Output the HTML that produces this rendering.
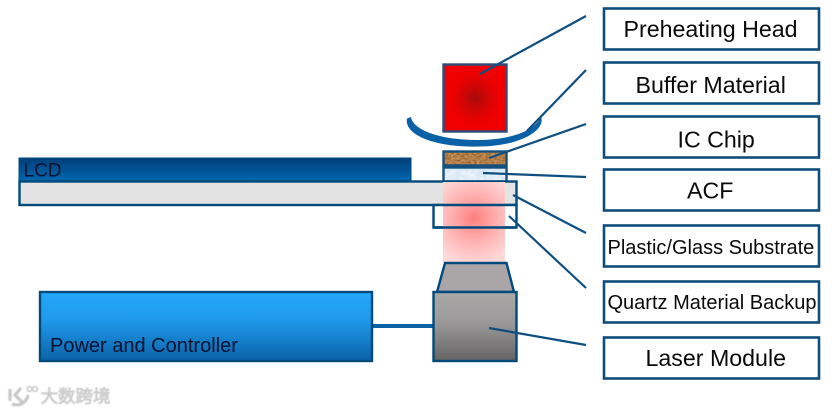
<!DOCTYPE html>
<html>
<head>
<meta charset="utf-8">
<style>
html,body{margin:0;padding:0;background:#fff;width:835px;height:412px;overflow:hidden}
svg{display:block}
text{font-family:"Liberation Sans","Noto Sans CJK SC",sans-serif}
</style>
</head>
<body>
<svg width="835" height="412" viewBox="0 0 835 412" xmlns="http://www.w3.org/2000/svg">
<defs>
<radialGradient id="head" cx="50%" cy="50%" r="50%">
<stop offset="0" stop-color="#a80a0a"/>
<stop offset="0.35" stop-color="#cf0505"/>
<stop offset="0.75" stop-color="#ee0000"/>
<stop offset="1" stop-color="#f20000"/>
</radialGradient>
<radialGradient id="glow" gradientUnits="userSpaceOnUse" cx="474" cy="218" r="46">
<stop offset="0" stop-color="#ff7f7f"/>
<stop offset="0.5" stop-color="#ffb0b0"/>
<stop offset="1" stop-color="#ffd8d8"/>
</radialGradient>
<linearGradient id="lcd" x1="0" y1="0" x2="0" y2="1">
<stop offset="0" stop-color="#003f78"/>
<stop offset="1" stop-color="#0066b0"/>
</linearGradient>
<linearGradient id="power" x1="0" y1="0" x2="0" y2="1">
<stop offset="0" stop-color="#25a8fb"/>
<stop offset="0.4" stop-color="#1f9aea"/>
<stop offset="1" stop-color="#0a62a8"/>
</linearGradient>
<linearGradient id="laser" x1="0" y1="0" x2="0" y2="1">
<stop offset="0" stop-color="#aba8a8"/>
<stop offset="0.45" stop-color="#9a9898"/>
<stop offset="1" stop-color="#656363"/>
</linearGradient>
<filter id="wood" x="0" y="0" width="100%" height="100%">
<feTurbulence type="fractalNoise" baseFrequency="0.35 0.5" numOctaves="2" seed="4"/>
<feColorMatrix type="matrix" values="0 0 0 0 0  0 0 0 0 0  0 0 0 0 0  1.6 0 0 0 -0.3"/>
<feComposite in2="SourceGraphic" operator="in" result="n"/>
<feFlood flood-color="#8f5a28"/>
<feComposite in2="n" operator="in" result="d"/>
<feMerge><feMergeNode in="SourceGraphic"/><feMergeNode in="d"/></feMerge>
</filter>
<filter id="ice" x="0" y="0" width="100%" height="100%">
<feTurbulence type="fractalNoise" baseFrequency="0.18" numOctaves="2" seed="8"/>
<feColorMatrix type="matrix" values="0 0 0 0 1  0 0 0 0 1  0 0 0 0 1  1.3 0 0 0 -0.45"/>
<feComposite in2="SourceGraphic" operator="in" result="n"/>
<feMerge><feMergeNode in="SourceGraphic"/><feMergeNode in="n"/></feMerge>
</filter>
<filter id="soft" x="-10%" y="-30%" width="120%" height="160%">
<feGaussianBlur stdDeviation="0.5"/>
</filter>
</defs>

<!-- Preheating head -->
<rect x="443.500" y="64.500" width="63" height="67" fill="url(#head)" stroke="#2f4c7c" stroke-width="2.400"/>

<!-- Buffer bowl -->
<path d="M407 118.500 L411 117 C412 127 432 139.500 476 140 C515 140 536 129 541 116.500 C544 124 537 133 522 139 C505 146 485 147 468 146.500 C431 145.500 404 134 407 118.500 Z" fill="#0a61a6"/>

<!-- LCD -->
<rect x="19" y="158" width="392" height="23" fill="url(#lcd)" stroke="#004a80" stroke-width="1"/>
<text x="23.500" y="176.500" font-size="19" fill="#04122f">LCD</text>

<!-- Chip -->
<rect x="443.500" y="151.500" width="63" height="14" fill="#cf9a5f" filter="url(#wood)"/>
<rect x="443.500" y="151.500" width="63" height="14" fill="none" stroke="#14507f" stroke-width="2.400"/>

<!-- ACF -->
<rect x="443.500" y="167.500" width="63" height="14" fill="#d8e8f8" filter="url(#ice)"/>
<rect x="443.500" y="167.500" width="63" height="14" fill="none" stroke="#14507f" stroke-width="2.400"/>

<!-- Substrate -->
<rect x="19.500" y="181.500" width="497" height="23.500" fill="#e3e3e3" stroke="#004a7c" stroke-width="2.400"/>

<!-- Quartz -->
<path d="M433.500 205 V227.500 H516.500 V205" fill="#fff" stroke="#004a7c" stroke-width="2.400"/>

<!-- Laser glow -->
<rect x="443" y="182" width="62" height="80" fill="url(#glow)"/>
<path d="M433 205 H517" stroke="#004a7c" stroke-width="2.400" fill="none"/>
<path d="M433.500 227.500 H516.500" stroke="#004a7c" stroke-width="2.400" fill="none"/>

<!-- Trapezoid -->
<path d="M445 263 H506.500 L514 292 H437 Z" fill="#aaa6a7" stroke="#004a7c" stroke-width="2.400"/>

<!-- Connector -->
<rect x="372" y="324" width="62" height="4" fill="#0a61a6"/>

<!-- Power -->
<rect x="40" y="292" width="332" height="69" fill="url(#power)" stroke="#004a7c" stroke-width="2.400"/>
<text x="50" y="352" font-size="20" fill="#04122f">Power and Controller</text>

<!-- Laser module -->
<rect x="433.500" y="292" width="83" height="69" fill="url(#laser)" stroke="#004a7c" stroke-width="2.400"/>

<!-- Leaders -->
<g stroke="#0e4f82" stroke-width="2.200" fill="none">
<path d="M586 16 L480 74"/>
<path d="M586 70 L527 131"/>
<path d="M586 124 L489 158"/>
<path d="M586 177 L483 173"/>
<path d="M586 233 L513 195"/>
<path d="M586 288 L509 216"/>
<path d="M586 345 L489 328"/>
</g>

<!-- Label boxes -->
<g fill="#fff" stroke="#0e4d7c" stroke-width="2.600">
<rect x="604" y="8.500" width="215" height="41"/>
<rect x="604" y="62.500" width="215" height="41"/>
<rect x="604" y="116.500" width="215" height="41"/>
<rect x="604" y="169.500" width="215" height="41"/>
<rect x="604" y="225.500" width="215" height="41"/>
<rect x="604" y="281.500" width="215" height="41"/>
<rect x="604" y="337.500" width="215" height="41"/>
</g>

<g fill="#0a0a0a">
<text x="623.500" y="37" font-size="23.200">Preheating Head</text>
<text x="635.500" y="93" font-size="23.200">Buffer Material</text>
<text x="677.500" y="147.500" font-size="23.200">IC Chip</text>
<text x="687" y="198.500" font-size="23.200">ACF</text>
<text x="607.500" y="254" font-size="20">Plastic/Glass Substrate</text>
<text x="607.500" y="309" font-size="20">Quartz Material Backup</text>
<text x="645.500" y="366" font-size="23.200">Laser Module</text>
</g>

<!-- Watermark -->
<g filter="url(#soft)">
<g fill="none" stroke="#c8c8c8" stroke-width="3.200">
<path d="M10 389 L10 401"/>
<path d="M21 388 L15 395 L22 402"/>
<path d="M12 404 C20 407 27 402 28 395"/>
<circle cx="29.500" cy="389" r="2.400" stroke-width="1.500"/>
<circle cx="35" cy="389" r="2.400" stroke-width="1.500"/>
</g>
<text x="40.500" y="402.500" font-size="17.500" fill="#c4c4c4" stroke="#d0d0d0" stroke-width="0.900">大数跨境</text>
</g>
</svg>
</body>
</html>
